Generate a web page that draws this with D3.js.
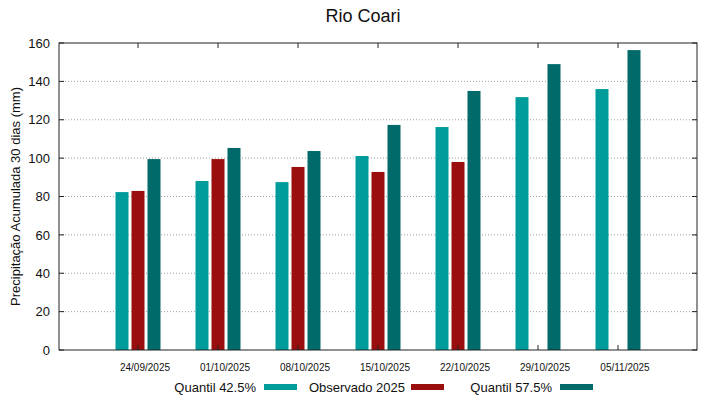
<!DOCTYPE html>
<html>
<head>
<meta charset="utf-8">
<script src="https://cdn.jsdelivr.net/npm/d3@7"></script>
<style>
  body { margin: 0; background: #fff; }
  text { font-family: "Liberation Sans", Arial, sans-serif; }
</style>
</head>
<body>
<div id="chart"></div>
<script>
// data
let dates = ["24/09/2025", "01/10/2025", "08/10/2025", "15/10/2025", "22/10/2025", "29/10/2025", "05/11/2025"];
let q425 = [82.3, 88.1, 87.5, 101.1, 116.2, 131.8, 136.0];
let observado = [82.9, 99.5, 95.4, 92.8, 98.0, null, null];
let q575 = [99.5, 105.3, 103.7, 117.3, 135.0, 149.0, 156.3];
let yTicks = [0, 20, 40, 60, 80, 100, 120, 140, 160];

let seriesNames = ["Quantil 42.5%", "Observado 2025", "Quantil 57.5%"];
let seriesColors = ["#009b9b", "#9b0e0e", "#006a6a"];
let seriesData = [q425, observado, q575];

let W = 719, H = 399;
let margin = {top: 43, right: 22, bottom: 49, left: 59};
let width = W - margin.left - margin.right,
    height = H - margin.top - margin.bottom;

let svg = d3.select("#chart")
  .append("svg")
  .attr("width", W)
  .attr("height", H);

let g = svg.append("g")
  .attr("transform", "translate(" + margin.left + "," + margin.top + ")");

// group index -> x (gnuplot-like histogram spacing)
let x = d3.scaleLinear()
  .domain([-0.9875, dates.length - 0.0125])
  .range([0, width]);

let y = d3.scaleLinear()
  .domain([0, 160])
  .range([height, 0]);

// grid lines
g.append("g")
  .selectAll("line")
  .data(yTicks.filter(d => d > 0 && d < 160))
  .enter()
  .append("line")
  .attr("x1", 0)
  .attr("x2", width)
  .attr("y1", d => y(d))
  .attr("y2", d => y(d))
  .attr("stroke", "#a0a0a0")
  .attr("stroke-width", 1)
  .attr("stroke-dasharray", "1,2");

// bars
let barW = 0.1625, barStep = 0.2;
seriesData.forEach(function(vals, s) {
  g.append("g")
    .selectAll("rect")
    .data(vals.map((v, i) => ({i: i, v: v})).filter(d => d.v != null))
    .enter()
    .append("rect")
    .attr("x", d => x(d.i + (s - 1) * barStep - barW / 2))
    .attr("y", d => y(d.v))
    .attr("width", x(barW) - x(0))
    .attr("height", d => height - y(d.v))
    .attr("fill", seriesColors[s]);
});

// frame
g.append("rect")
  .attr("x", 0)
  .attr("y", 0)
  .attr("width", width)
  .attr("height", height)
  .attr("fill", "none")
  .attr("stroke", "#222")
  .attr("stroke-width", 1);

// y axis ticks + labels
let yAxis = g.append("g");
yTicks.forEach(function(t) {
  yAxis.append("line")
    .attr("x1", 0).attr("x2", 5)
    .attr("y1", y(t)).attr("y2", y(t))
    .attr("stroke", "#222");
  yAxis.append("line")
    .attr("x1", width).attr("x2", width - 5)
    .attr("y1", y(t)).attr("y2", y(t))
    .attr("stroke", "#222");
  yAxis.append("text")
    .attr("x", -9)
    .attr("y", y(t))
    .attr("dy", "0.36em")
    .attr("text-anchor", "end")
    .attr("font-size", "13px")
    .attr("fill", "#111")
    .text(t);
});

// x axis ticks + labels
let xAxis = g.append("g");
dates.forEach(function(d, i) {
  xAxis.append("line")
    .attr("x1", x(i)).attr("x2", x(i))
    .attr("y1", height).attr("y2", height - 5)
    .attr("stroke", "#222");
  xAxis.append("line")
    .attr("x1", x(i)).attr("x2", x(i))
    .attr("y1", 0).attr("y2", 5)
    .attr("stroke", "#222");
  xAxis.append("text")
    .attr("x", x(i) + 7)
    .attr("y", height + 21)
    .attr("text-anchor", "middle")
    .attr("font-size", "10px")
    .attr("fill", "#111")
    .text(d);
});

// title
svg.append("text")
  .attr("x", 363)
  .attr("y", 22)
  .attr("text-anchor", "middle")
  .attr("font-size", "18px")
  .attr("fill", "#111")
  .text("Rio Coari");

// y label
svg.append("text")
  .attr("transform", "translate(20," + (margin.top + height / 2) + ") rotate(-90)")
  .attr("text-anchor", "middle")
  .attr("font-size", "13px")
  .attr("fill", "#111")
  .text("Precipitação Acumulada 30 dias (mm)");

// legend
let legendTextEnd = [256, 405, 552];
let legendSwatch = [264, 411, 560];
seriesNames.forEach(function(name, s) {
  svg.append("text")
    .attr("x", legendTextEnd[s])
    .attr("y", 392)
    .attr("text-anchor", "end")
    .attr("font-size", "13px")
    .attr("fill", "#111")
    .text(name);
  svg.append("rect")
    .attr("x", legendSwatch[s])
    .attr("y", 384)
    .attr("width", 33)
    .attr("height", 6)
    .attr("fill", seriesColors[s]);
});
</script>
</body>
</html>
